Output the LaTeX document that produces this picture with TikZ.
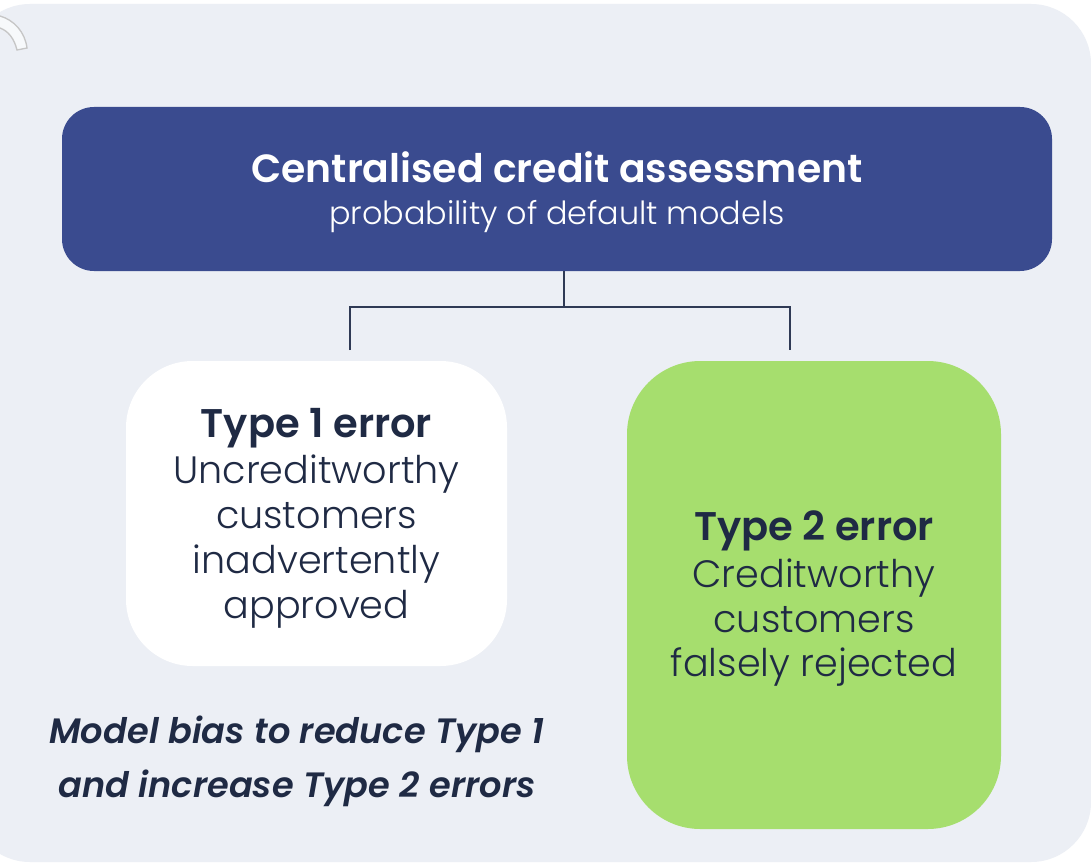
\documentclass[tikz,border=0pt]{standalone}
\usepackage{fontspec}
\setmainfont{Poppins}
\newfontfamily\lightfont{Poppins Light}
\newfontfamily\semifont{Poppins SemiBold}[ItalicFont={Poppins SemiBold Italic}]
\definecolor{bgc}{HTML}{ECEFF5}
\definecolor{navy}{HTML}{3A4B8F}
\definecolor{ink}{HTML}{1F2A44}
\definecolor{greenbox}{HTML}{A6DE6E}
\definecolor{linec}{HTML}{2F3A55}
\tikzset{
  bodytext/.style={font=\lightfont\fontsize{28.6}{34}\selectfont, text=ink, align=center},
  headtext/.style={font=\semifont\fontsize{30}{34}\selectfont, text=ink},
  italtext/.style={font=\semifont\itshape\fontsize{26.4}{34}\selectfont, text=ink},
  conn/.style={draw=linec, line width=1pt}
}
\begin{document}
\begin{tikzpicture}[x=0.75pt,y=-0.75pt]
\useasboundingbox (0,0) rectangle (1091,866);
\fill[white] (0,0) rectangle (1091,866);
\fill[bgc, rounded corners=45] (-30,4) rectangle (1091,862);
% small artifact top-left
\draw[draw=gray!45, fill=white!60!bgc, line width=1pt] (0,16) .. controls (14,20) and (25,32) .. (27,48) -- (17,50) .. controls (14,38) and (8,31) .. (0,28);
% boxes
\fill[navy, rounded corners=24] (62,107) rectangle (1052,271);
\node[text=white, font=\semifont\fontsize{29.5}{32}\selectfont, anchor=base] (title) at (557,183) {Centralised credit assessment};
\node[text=white, font=\lightfont\fontsize{23.9}{24}\selectfont, anchor=base] (subtitle) at (557,224) {probability of default models};
\fill[white, rounded corners=50] (126,361) rectangle (507,666);
\node[headtext, anchor=base] (t1) at (316.5,437) {Type 1 error};
\node[bodytext, anchor=base] (u1) at (316.5,483) {Uncreditworthy};
\node[bodytext, anchor=base] (u2) at (316.5,528) {customers};
\node[bodytext, anchor=base] (u3) at (316.5,573) {inadvertently};
\node[bodytext, anchor=base] (u4) at (316.5,618) {approved};
\fill[greenbox, rounded corners=55] (627,361) rectangle (1001,829);
\node[headtext, anchor=base] (t2) at (814,540) {Type 2 error};
\node[bodytext, anchor=base] (c1) at (814,587) {Creditworthy};
\node[bodytext, anchor=base] (c2) at (814,632) {customers};
\node[bodytext, anchor=base] (c3) at (814,676) {falsely rejected};
\node[italtext, anchor=base] (m1) at (297,743) {Model bias to reduce Type 1};
\node[italtext, anchor=base] (m2) at (297,797) {and increase Type 2 errors};
% connectors
\coordinate (top) at (564,271);
\coordinate (mid) at (564,307);
\coordinate (la) at (350,307);
\coordinate (lb) at (350,350);
\coordinate (ra) at (790,307);
\coordinate (rb) at (790,350);
\draw[conn] (top) -- (mid);
\draw[conn] (lb) -- (la) -- (ra) -- (rb);
\end{tikzpicture}
\end{document}
